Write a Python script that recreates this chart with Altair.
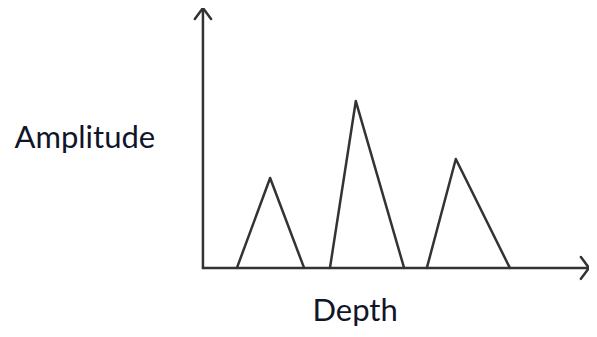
import altair as alt
import pandas as pd

# Peaks (depth units along the x axis, amplitude units along the y axis)
peak_start = [0.88, 3.29, 5.80]
peak_apex = [1.74, 3.96, 6.55]
peak_end = [2.62, 5.21, 7.95]
peak_height = [3.46, 6.42, 4.19]

# Axis extents
x_min, x_max = -5.05, 10.0
y_min, y_max = -2.35, 10.0

# Arrow head size
arrow_dx = 0.21
arrow_dy = 0.42

# Labels
label_text = ["Amplitude", "Depth"]
label_x = [-3.06, 3.94]
label_y = [4.62, -2.06]

rows = []
for i in range(len(peak_start)):
    pts = [(peak_start[i], 0), (peak_apex[i], peak_height[i]), (peak_end[i], 0)]
    for k, (px, py) in enumerate(pts):
        rows.append({"g": f"peak{i}", "o": k, "x": px, "y": py})
for k, (px, py) in enumerate([(0, 0), (0, y_max)]):
    rows.append({"g": "yaxis", "o": k, "x": px, "y": py})
for k, (px, py) in enumerate([(0, 0), (x_max, 0)]):
    rows.append({"g": "xaxis", "o": k, "x": px, "y": py})
for k, (px, py) in enumerate([(-arrow_dx, y_max - arrow_dy), (0, y_max), (arrow_dx, y_max - arrow_dy)]):
    rows.append({"g": "yarrow", "o": k, "x": px, "y": py})
for k, (px, py) in enumerate([(x_max - arrow_dx, arrow_dy), (x_max, 0), (x_max - arrow_dx, -arrow_dy)]):
    rows.append({"g": "xarrow", "o": k, "x": px, "y": py})
lines_df = pd.DataFrame(rows)

labels_df = pd.DataFrame({"t": label_text, "x": label_x, "y": label_y})

xs = alt.Scale(domain=[x_min, x_max], nice=False, zero=False)
ys = alt.Scale(domain=[y_min, y_max], nice=False, zero=False)

lines = alt.Chart(lines_df).mark_line(
    color="#333333", strokeWidth=2.5, strokeCap="round", strokeJoin="round", clip=False
).encode(
    x=alt.X("x:Q", scale=xs, axis=None),
    y=alt.Y("y:Q", scale=ys, axis=None),
    detail="g:N",
    order="o:Q",
)

labels = alt.Chart(labels_df).mark_text(
    font="Lato", fontSize=31, color="#10152a", align="center", baseline="alphabetic"
).encode(
    x=alt.X("x:Q", scale=xs, axis=None),
    y=alt.Y("y:Q", scale=ys, axis=None),
    text="t:N",
)

chart = alt.layer(lines, labels).properties(
    width=581, height=321, autosize=alt.AutoSizeParams(type="none"), padding=0,
    background="white",
).configure_view(stroke=None)

chart.save("out.html", embed_options={"renderer": "svg", "actions": False})
